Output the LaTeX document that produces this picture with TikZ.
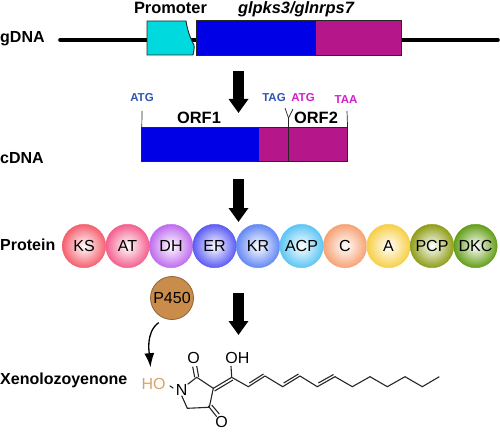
\documentclass[tikz,border=0pt]{standalone}
\usepackage{fontspec}
\setmainfont{Liberation Sans}
\usetikzlibrary{arrows.meta, positioning}
\definecolor{GeneBlue}{HTML}{0000E6}
\definecolor{GenePurple}{HTML}{B5178A}
\definecolor{PromCyan}{HTML}{00DADF}
\definecolor{TagBlue}{HTML}{2F55B5}
\definecolor{TagPink}{HTML}{D020C8}
\definecolor{EnzBrown}{HTML}{C98C4A}
\definecolor{HoOrange}{HTML}{DBA265}
\definecolor{DomKS}{HTML}{F4606E}
\definecolor{DomAT}{HTML}{F4608F}
\definecolor{DomDH}{HTML}{BF6CEE}
\definecolor{DomER}{HTML}{5C5CF4}
\definecolor{DomKR}{HTML}{6488F4}
\definecolor{DomACP}{HTML}{5CC6F4}
\definecolor{DomC}{HTML}{F7A275}
\definecolor{DomA}{HTML}{F7CF48}
\definecolor{DomPCP}{HTML}{8F9E18}
\definecolor{DomDKC}{HTML}{649E18}
\newcommand{\pxfont}[1]{\fontsize{#1}{#1}\selectfont}
\tikzset{
  rowlabel/.style={anchor=west, inner sep=0pt, font=\pxfont{16}\bfseries},
  title/.style={inner sep=0pt, font=\pxfont{16.4}\bfseries},
  codon/.style={inner sep=0pt, font=\pxfont{11.5}\bfseries},
  genebox/.style={inner sep=0pt, minimum height=34pt},
  domainball/.style={circle, inner sep=0pt, minimum size=43.5pt, font=\pxfont{16}},
  atom/.style={inner sep=0pt, font=\pxfont{16}},
  dnaline/.style={line width=3.6pt, line cap=round},
  outline/.style={draw=black!85, line width=0.9pt},
  bond/.style={line width=1.1pt, draw=black!85},
  bigarrow/.style={line width=11pt, -{Triangle[length=14pt, width=19pt]}}
}
\begin{document}
\begin{tikzpicture}[x=1pt, y=-1pt]
\useasboundingbox (0,0) rectangle (500,433);

% gDNA
\coordinate (lineL) at (60,40);
\coordinate (lineP) at (150,40);
\coordinate (lineQ) at (190,40);
\coordinate (lineS) at (200,40);
\coordinate (lineT) at (398,40);
\coordinate (lineR) at (498,40);
\draw[dnaline] (lineL) -- (lineP);
\draw[dnaline] (lineQ) -- (lineS);
\draw[dnaline] (lineT) -- (lineR);
\node[rowlabel] (gdna) at (0,39) {gDNA};
\node[title] (prom) at (170.5,8) {Promoter};
\node[title, font=\pxfont{16.4}\bfseries\itshape] (genename) at (296,9) {glpks3/glnrps7};
\node[genebox, fill=GeneBlue, minimum width=119pt] (gene1) at (256.5,38) {};
\node[genebox, fill=GenePurple, minimum width=85pt, right=0pt of gene1] (gene2) {};
\draw[outline, fill=PromCyan] (147,21) -- (186,21) .. controls (187.5,30) and (190,38) .. (194,45) .. controls (194.5,49) and (193.5,52) .. (193,55) -- (147,55) -- cycle;
\draw[outline] (gene1.north west) rectangle (gene2.south east);

% cDNA
\node[rowlabel] (cdna) at (0,158) {cDNA};
\node[genebox, fill=GeneBlue, minimum width=117pt, minimum height=33pt] (orfA) at (200.5,144.5) {};
\node[genebox, fill=GenePurple, minimum width=88pt, minimum height=33pt, right=0pt of orfA] (orfB) {};
\draw[outline] (orfA.north west) rectangle (orfB.south east);
\coordinate (startA) at (142,111);
\coordinate (stopB) at (347,111);
\coordinate (split) at (288.5,118);
\coordinate (splitL) at (285,108);
\coordinate (splitR) at (293,109);
\coordinate (splitB) at (288.5,161);
\draw[outline, line width=0.7pt] (startA) -- (orfA.north west);
\draw[outline, line width=0.7pt] (stopB) -- (orfB.north east);
\draw[outline, line width=0.7pt] (splitL) -- (split) -- (splitB);
\draw[outline, line width=0.7pt] (splitR) -- (split);
\node[codon, text=TagBlue] (atgA) at (142,98) {ATG};
\node[codon, text=TagBlue] (tagA) at (274,98) {TAG};
\node[codon, text=TagPink] (atgB) at (303,98) {ATG};
\node[codon, text=TagPink] (taaB) at (346,99.5) {TAA};
\node[title] (orf1) at (199,118) {ORF1};
\node[title] (orf2) at (316,118) {ORF2};

% block arrows
\coordinate (arrA) at (238.5,71);
\coordinate (arrB) at (238.5,113);
\coordinate (arrC) at (238.5,179);
\coordinate (arrD) at (238.5,222);
\coordinate (arrE) at (238.5,293);
\coordinate (arrF) at (238.5,335);
\draw[bigarrow] (arrA) -- (arrB);
\draw[bigarrow] (arrC) -- (arrD);
\draw[bigarrow] (arrE) -- (arrF);

% Protein
\node[rowlabel] (protein) at (0,245) {Protein};
\foreach \i/\lab/\col/\dy in {0/KS/DomKS/1, 1/AT/DomAT/-1.5, 2/DH/DomDH/-1.5, 3/ER/DomER/0.5, 4/KR/DomKR/-1.5, 5/ACP/DomACP/0.7, 6/C/DomC/0, 7/A/DomA/-1.5, 8/PCP/DomPCP/0.7, 9/DKC/DomDKC/0}
  \node[domainball, draw=\col, shading=radial, inner color=white, outer color=\col] (dom\lab) at (84+43.5*\i,246) {\raisebox{\dy pt}{\lab}};

% P450 and product
\node[domainball, fill=EnzBrown, draw=EnzBrown!70!black, line width=0.8pt, minimum size=43pt] (p450) at (172,298) {P450};
\node[rowlabel] (xeno) at (0,380) {Xenolozoyenone};
\node[atom, text=HoOrange] (ho) at (153.5,384) {HO};
\node[atom] (nitro) at (181.7,390) {N};
\node[atom] (otop) at (193.7,357.7) {O};
\node[atom] (obot) at (221.7,421.7) {O};
\node[atom] (ohtop) at (237.3,357.7) {OH};
\draw[-{Latex[length=14pt, width=10pt]}, line width=1.3pt, shorten <=7pt, shorten >=11pt] (p450.250) to[out=215, in=95] ([xshift=-2pt]ho.north);

% bonds
\draw[bond, shorten >=3pt] (ho.east)+(4,1.7) -- (nitro.west);
\draw[bond] (nitro.north east) -- (196.7,377.3) -- (213.3,388.3) -- (209.3,407.3) -- (187.3,408.3) -- (nitro.south);
\draw[bond] (192.7,366.7) -- (194.7,377.3);
\draw[bond] (196.7,366) -- (198.7,377);
\draw[bond] (208.3,406) -- (216.7,416.7);
\draw[bond] (211.7,405) -- (219.3,414);
\draw[bond] (213.3,388.3) -- (231.7,377.3);
\draw[bond] (214.6,391) -- (233,380);
\draw[bond] (231.7,377.3) -- (231,366);
\draw[bond] (231.7,377.3) -- (248.3,386.7) -- (265,376) -- (282.7,386.7) -- (300,376) -- (317.3,386.7) -- (335,376.7) -- (352.3,386.7) -- (370,376.7) -- (387.3,386.7) -- (405,376.7) -- (422.3,386.7) -- (439.3,376.7);
\draw[bond] (249.3,383) -- (263.5,374);
\draw[bond] (283.7,383) -- (298.5,374);
\draw[bond] (318.3,383) -- (333.5,374.5);
\end{tikzpicture}
\end{document}
